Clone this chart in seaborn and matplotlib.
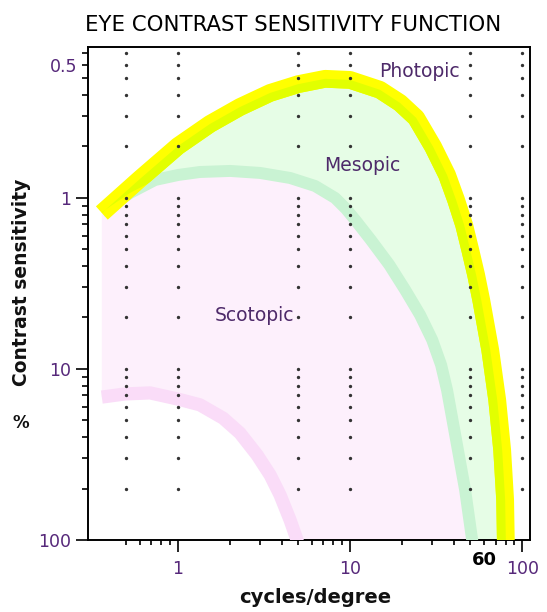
import numpy as np
import matplotlib
matplotlib.use("Agg")
import matplotlib.pyplot as plt
import matplotlib.transforms as mtransforms
from matplotlib.ticker import FuncFormatter, NullFormatter
import seaborn as sns

sns.set_theme(style="ticks")
plt.rcParams['font.family'] = ['DejaVu Sans']

# spatial frequency (cycles/degree) and contrast threshold (%)
freq_photopic = [0.361, 0.601, 1.0, 1.535, 2.29, 3.43, 4.99, 7.16, 10.0, 14.9, 19.5, 24.2,
                 30.4, 36.6, 41.3, 46.0, 49.9, 54.0, 57.8, 65.2, 71.6, 76.5, 79.6, 80.7]
contrast_photopic = [1.224, 0.774, 0.497, 0.369, 0.294, 0.243, 0.216, 0.201, 0.204, 0.233, 0.278, 0.340,
                     0.503, 0.734, 1.027, 1.44, 2.01, 2.82, 3.95, 7.74, 15.2, 29.8, 58.3, 131.0]

freq_mesopic = [0.361, 0.526, 0.735, 1.0, 1.34, 2.01, 3.0, 4.48, 6.26, 8.18, 9.48, 10.8, 13.2,
                16.9, 20.9, 25.5, 30.0, 33.8, 36.6, 41.3, 46.6, 51.2, 53.3]
contrast_mesopic = [1.21, 0.935, 0.785, 0.734, 0.705, 0.695, 0.714, 0.764, 0.851, 1.0, 1.16, 1.36, 1.76,
                    2.46, 3.45, 4.83, 6.76, 9.48, 13.3, 26.0, 51.0, 100.0, 131.0]

freq_scotopic = [0.361, 0.492, 0.688, 1.0, 1.34, 1.83, 2.29, 2.88, 3.43, 3.92, 4.48, 4.92, 5.12]
contrast_scotopic = [14.6, 14.0, 13.8, 15.0, 16.2, 19.4, 23.7, 31.8, 41.7, 54.6, 76.4, 100.0, 131.0]

region_names = ["Photopic", "Mesopic", "Scotopic"]
region_freq = [25.2, 11.8, 2.8]
region_contrast = [0.183, 0.650, 4.9]

x_major = [1, 10, 100]
x_major_labels = ["1", "10", "100"]
y_major = [100, 10, 1]
y_major_labels = ["100", "10", "1"]
grid_x = [0.5, 1, 5, 10, 50, 100]

fig = plt.figure(figsize=(5.47, 6.12), dpi=100)
ax = fig.add_axes([88 / 547, 1 - 540 / 612, 442 / 547, 493 / 612])
ax.set_xscale('log')
ax.set_yscale('log')

# filled regions
green_fill = ax.fill(np.concatenate([freq_photopic, freq_mesopic[::-1]]),
                     np.concatenate([contrast_photopic, contrast_mesopic[::-1]]),
                     color='#e6fde6', lw=0, zorder=1)[0]
ax.fill(np.concatenate([freq_mesopic, freq_scotopic[::-1]]),
        np.concatenate([contrast_mesopic, contrast_scotopic[::-1]]),
        color='#fdf0fc', lw=0, zorder=1)

# bands
sns.lineplot(x=freq_scotopic, y=contrast_scotopic, ax=ax, color='#fadcf8', linewidth=9.5,
             solid_capstyle='butt', solid_joinstyle='round', zorder=3, legend=False)
sns.lineplot(x=freq_mesopic, y=contrast_mesopic, ax=ax, color='#c9f3d3', linewidth=8.6,
             solid_capstyle='butt', solid_joinstyle='round', zorder=4, legend=False)
sns.lineplot(x=freq_photopic, y=contrast_photopic, ax=ax, color='#ffff00', linewidth=12.8,
             solid_capstyle='butt', solid_joinstyle='round', zorder=5, legend=False)
sns.lineplot(x=freq_photopic, y=contrast_photopic, ax=ax, color='#e2ff00', linewidth=12.8,
             solid_capstyle='butt', solid_joinstyle='round', zorder=5.5, legend=False)
ax.lines[-1].set_clip_path(green_fill)

ax.set_xlim(0.30, 111)
ax.set_ylim(100, 0.131)

# ticks
x_minor = [k * 10.0 ** n for n in (-1, 0, 1) for k in range(2, 10) if k * 10.0 ** n >= 0.5]
y_minor = [100 / (k * 10 ** n) for n in range(3) for k in range(2, 10) if 100 / (k * 10 ** n) > 0.131]
ax.set_xticks(x_major, x_major_labels)
ax.set_xticks(x_minor, minor=True)
ax.xaxis.set_minor_formatter(NullFormatter())
ax.set_yticks(y_major, y_major_labels)
ax.set_yticks(y_minor, minor=True)
ax.yaxis.set_minor_formatter(FuncFormatter(lambda v, p: "0.5" if abs(v - 100 / 600) < 1e-6 else ""))

lab_col = '#56287a'
ax.tick_params(axis='x', which='major', length=8.6, width=1.2, pad=6, labelsize=12.5, labelcolor=lab_col, color='black')
ax.tick_params(axis='x', which='minor', length=3.8, width=1.2, color='black')
ax.tick_params(axis='y', which='major', length=8.6, width=1.2, pad=3.5, labelsize=12.5, labelcolor=lab_col, color='black')
ax.tick_params(axis='y', which='minor', length=4.3, width=1.2, pad=3.5, labelsize=12.5, labelcolor=lab_col, color='black')
for s in ax.spines.values():
    s.set_color('black')
    s.set_linewidth(1.4)

# dotted grid: dots at every y tick on selected verticals
gx, gy = np.meshgrid(grid_x, y_major[1:] + y_minor)
ax.plot(gx.ravel(), gy.ravel(), linestyle='none', marker='o', ms=1.4, color='#333333', zorder=6)

for name, fx, cy in zip(region_names, region_freq, region_contrast):
    ax.text(fx, cy, name, ha='center', va='center', fontsize=13.5, color='#4e2a6a', zorder=7)

trans = mtransforms.blended_transform_factory(ax.transData, ax.transAxes)
ax.text(60, -0.022, "60", transform=trans, ha='center', va='top', fontsize=13, fontweight='bold', color='black')

fig.text(0.536, 0.959, "EYE CONTRAST SENSITIVITY FUNCTION", ha='center', va='center', fontsize=15.3, color='black')
fig.text(0.040, 0.538, "Contrast sensitivity", rotation=90, ha='center', va='center', fontsize=13.5,
         fontweight='bold', color='#111111')
fig.text(0.038, 0.309, "%", ha='center', va='center', fontsize=12, fontweight='bold', color='#111111')
fig.text(0.576, 0.023, "cycles/degree", ha='center', va='center', fontsize=14, fontweight='bold', color='#111111')

fig.savefig("out.png", dpi=100)
